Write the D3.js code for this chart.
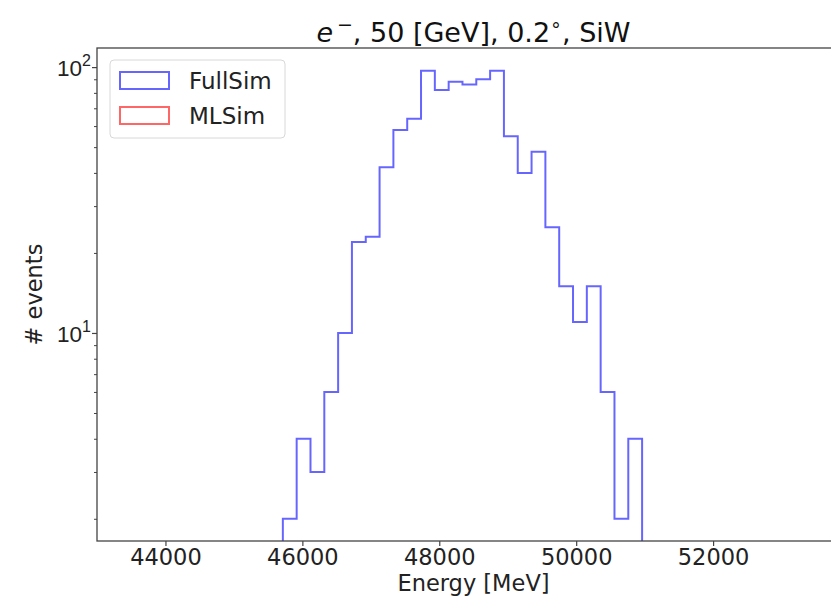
<!DOCTYPE html>
<html>
<head>
<meta charset="utf-8">
<script src="https://cdn.jsdelivr.net/npm/d3@7"></script>
<style>
  html, body { margin: 0; padding: 0; background: #fff; }
  svg { display: block; font-family: "DejaVu Sans", sans-serif; }
</style>
</head>
<body>
<svg id="chart" width="831" height="602"></svg>
<script>
// Energy histogram: counts per bin (FullSim), equal-width bins
const binLow = 45715;      // MeV, lower edge of first bin
const binHigh = 50963;     // MeV, upper edge of last bin
const fullSimCounts = [2, 4, 3, 6, 10, 22, 23, 42, 58, 64, 97, 82, 88, 86, 90, 97, 55, 40, 48, 25, 15, 11, 15, 6, 2, 4];
const mlSimCounts = [];    // MLSim histogram (no entries in range)

const seriesNames = ["FullSim", "MLSim"];
const seriesColors = ["blue", "red"];

const xTickValues = [44000, 46000, 48000, 50000, 52000];
const yMajorTicks = [10, 100];
const yMinorTicks = [2, 3, 4, 5, 6, 7, 8, 9, 20, 30, 40, 50, 60, 70, 80, 90];

const W = 831, H = 602;
const plot = { left: 97, right: 850, top: 48, bottom: 541 };
const fontSize = 22.5;

const svg = d3.select("#chart");

const x = d3.scaleLinear().domain([43000, 54000]).range([plot.left, plot.right]);
const y = d3.scaleLog().domain([1.65, 118]).range([plot.bottom, plot.top]);

svg.append("rect").attr("width", W).attr("height", H).attr("fill", "#fff");

svg.append("defs").append("clipPath").attr("id", "plotClip")
  .append("rect")
  .attr("x", plot.left).attr("y", plot.top)
  .attr("width", plot.right - plot.left).attr("height", plot.bottom - plot.top);

// histogram outline (step)
function stepPoints(counts) {
  const n = counts.length;
  const w = (binHigh - binLow) / n;
  const yBase = y.domain()[0];
  const pts = [[binLow, yBase]];
  counts.forEach((c, i) => pts.push([binLow + i * w, c]));
  pts.push([binHigh, counts[n - 1]]);
  pts.push([binHigh, yBase]);
  return pts;
}

const line = d3.line()
  .x(d => x(d[0]))
  .y(d => y(d[1]))
  .curve(d3.curveStepAfter);

const g = svg.append("g").attr("clip-path", "url(#plotClip)");
[fullSimCounts, mlSimCounts].forEach((counts, i) => {
  if (!counts.length) return;
  g.append("path")
    .attr("d", line(stepPoints(counts)))
    .attr("fill", "none")
    .attr("stroke", seriesColors[i])
    .attr("stroke-opacity", 0.6)
    .attr("stroke-width", 2)
    .attr("stroke-linejoin", "miter");
});

// axes
const axisColor = "#444";
const xAxis = svg.append("g")
  .attr("transform", `translate(0,${plot.bottom})`)
  .call(d3.axisBottom(x).tickValues(xTickValues).tickFormat(d3.format("d")).tickSize(5).tickSizeOuter(0).tickPadding(3));
xAxis.select(".domain").remove();
xAxis.selectAll("line").attr("stroke", axisColor).attr("stroke-width", 1.2);
xAxis.selectAll("text").attr("font-size", fontSize).attr("fill", "#222")
  .attr("font-family", "DejaVu Sans");

const yAxis = svg.append("g")
  .attr("transform", `translate(${plot.left},0)`)
  .call(d3.axisLeft(y).tickValues(yMajorTicks).tickFormat("").tickSize(5).tickSizeOuter(0));
yAxis.select(".domain").remove();
yAxis.selectAll("line").attr("stroke", axisColor).attr("stroke-width", 1.2);
yAxis.selectAll(".tick").each(function (d) {
  const t = d3.select(this).select("text")
    .attr("x", -6).attr("dy", "0.36em")
    .attr("font-size", fontSize).attr("fill", "#222").attr("text-anchor", "end");
  t.text(null);
  t.append("tspan").text("10");
  t.append("tspan").attr("dy", -10).attr("font-size", 16).text(String(Math.round(Math.log10(d))));
});

const yMinor = svg.append("g")
  .attr("transform", `translate(${plot.left},0)`)
  .call(d3.axisLeft(y).tickValues(yMinorTicks).tickFormat("").tickSize(3).tickSizeOuter(0));
yMinor.select(".domain").remove();
yMinor.selectAll("line").attr("stroke", axisColor).attr("stroke-width", 1);

// frame
svg.append("rect")
  .attr("x", plot.left).attr("y", plot.top)
  .attr("width", plot.right - plot.left).attr("height", plot.bottom - plot.top)
  .attr("fill", "none").attr("stroke", axisColor).attr("stroke-width", 1.3);

// title
const title = svg.append("text")
  .attr("x", (plot.left + plot.right) / 2).attr("y", 42)
  .attr("text-anchor", "middle").attr("font-size", 27).attr("fill", "#111");
title.append("tspan").attr("font-style", "italic").text("e");
title.append("tspan").attr("dy", -11).attr("font-size", 19).text("\u2009\u2212");
title.append("tspan").attr("dy", 11).text(", 50 [GeV], 0.2");
title.append("tspan").attr("dy", -11).attr("font-size", 19).text("\u2218");
title.append("tspan").attr("dy", 11).text(", SiW");

// axis labels
svg.append("text")
  .attr("x", (plot.left + plot.right) / 2).attr("y", 591)
  .attr("text-anchor", "middle").attr("font-size", fontSize).attr("fill", "#222")
  .text("Energy [MeV]");

svg.append("text")
  .attr("transform", `translate(42,${(plot.top + plot.bottom) / 2}) rotate(-90)`)
  .attr("text-anchor", "middle").attr("font-size", fontSize).attr("fill", "#222")
  .text("# events");

// legend
const legend = svg.append("g");
legend.append("rect")
  .attr("x", 110).attr("y", 60).attr("width", 175).attr("height", 78).attr("rx", 4)
  .attr("fill", "#fff").attr("fill-opacity", 0.8)
  .attr("stroke", "#d8d8d8").attr("stroke-width", 1);
seriesNames.forEach((name, i) => {
  const yy = 72 + i * 35;
  legend.append("rect")
    .attr("x", 120).attr("y", yy).attr("width", 49).attr("height", 17)
    .attr("fill", "none").attr("stroke", seriesColors[i])
    .attr("stroke-opacity", 0.6).attr("stroke-width", 2);
  legend.append("text")
    .attr("x", 189).attr("y", yy + 17)
    .attr("font-size", 23).attr("fill", "#222")
    .text(name);
});
</script>
</body>
</html>
